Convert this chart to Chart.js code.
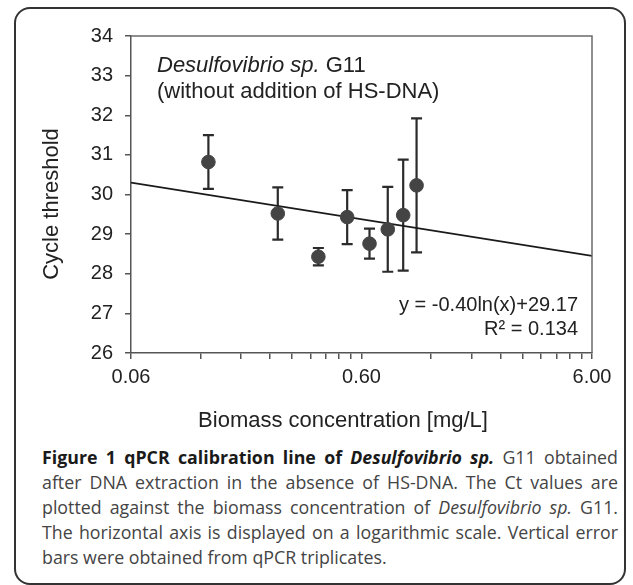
<!DOCTYPE html>
<html>
<head>
  <meta charset="utf-8">
  <title>qPCR calibration line</title>
  <style type="text/css">
    body { margin: 0; width: 633px; height: 585px; overflow: hidden; background: #fff; position: relative; }
    #frame {
      position: absolute; left: 14px; top: 7px; width: 612px; height: 578px;
      border: 2px solid #333; border-radius: 16px; box-sizing: border-box;
    }
    #wrap { position: absolute; left: 0; top: 0; width: 633px; height: 440px; }
    #caption {
      position: absolute; left: 42px; top: 445px; width: 576px;
      font-family: "Open Sans", sans-serif; font-size: 17.8px; line-height: 25px; color: #444;
    }
    #caption div { white-space: nowrap; text-align: justify; text-align-last: justify; }
    #caption div.last { text-align-last: left; }
    #caption b { color: #1a1a1a; }
  </style>
</head>
<body>
  <div id="frame"></div>
  <div id="wrap"><canvas id="chart"></canvas></div>
  <div id="caption">
    <div><b>Figure 1 qPCR calibration line of <i>Desulfovibrio sp.</i></b> G11 obtained</div>
    <div>after DNA extraction in the absence of HS-DNA. The Ct values are</div>
    <div>plotted against the biomass concentration of <i>Desulfovibrio sp.</i> G11.</div>
    <div>The horizontal axis is displayed on a logarithmic scale. Vertical error</div>
    <div class="last">bars were obtained from qPCR triplicates.</div>
  </div>
  <script src="https://cdn.jsdelivr.net/npm/chart.js@4/dist/chart.umd.min.js"></script>
  <script>
    // biomass concentration [mg/L] and mean Ct with error (+/-) from triplicates
    const biomass = [0.13, 0.26, 0.39, 0.52, 0.65, 0.78, 0.91, 1.04];
    const ctMean = [30.82, 29.52, 28.43, 29.43, 28.76, 29.12, 29.48, 30.23];
    const ctErr = [0.68, 0.66, 0.22, 0.68, 0.38, 1.07, 1.40, 1.69];

    // fitted line y = -0.40ln(x)+29.17, end points at the axis limits
    const trendX = [0.06, 6];
    const trendY = [30.30, 28.45];

    const xMajor = [0.06, 0.6, 6];
    const xTicks = [];
    for (const m of xMajor.slice(0, 2)) {
      for (let k = 1; k < 10; k++) xTicks.push(+(m * k).toFixed(4));
    }
    xTicks.push(6);
    const yTicks = [26, 27, 28, 29, 30, 31, 32, 33, 34];

    const ink = '#555';
    const textFont = '"Liberation Sans", Arial, sans-serif';

    const extras = {
      id: 'extras',
      beforeDatasetsDraw(chart) {
        const { ctx, scales: { x, y } } = chart;
        ctx.save();
        ctx.strokeStyle = '#2b2b2b';
        ctx.lineWidth = 2.2;
        biomass.forEach((b, i) => {
          const px = x.getPixelForValue(b);
          const top = y.getPixelForValue(ctMean[i] + ctErr[i]);
          const bot = y.getPixelForValue(ctMean[i] - ctErr[i]);
          ctx.beginPath();
          ctx.moveTo(px, top); ctx.lineTo(px, bot);
          ctx.moveTo(px - 5.5, top); ctx.lineTo(px + 5.5, top);
          ctx.moveTo(px - 5.5, bot); ctx.lineTo(px + 5.5, bot);
          ctx.stroke();
        });
        ctx.restore();
      },
      afterDraw(chart) {
        const { ctx, chartArea: a } = chart;
        ctx.save();
        // top and right frame of the plot box
        ctx.strokeStyle = '#6a6a6a';
        ctx.lineWidth = 1.5;
        ctx.beginPath();
        ctx.moveTo(a.left, a.top); ctx.lineTo(a.right, a.top); ctx.lineTo(a.right, a.bottom);
        ctx.stroke();

        ctx.fillStyle = '#222';
        ctx.textBaseline = 'middle';
        // label inside the plot
        ctx.textAlign = 'left';
        ctx.font = 'italic 22px ' + textFont;
        const t1 = 'Desulfovibrio sp.';
        ctx.fillText(t1, 157, 66);
        const w1 = ctx.measureText(t1 + ' ').width;
        ctx.font = '22px ' + textFont;
        ctx.fillText('G11', 157 + w1, 66);
        ctx.fillText('(without addition of HS-DNA)', 157, 92);

        // equation
        ctx.textAlign = 'right';
        ctx.font = '20px ' + textFont;
        ctx.fillText('y = -0.40ln(x)+29.17', 578, 305);
        ctx.fillText('R\u00b2 = 0.134', 578, 329);

        // axis titles
        ctx.textAlign = 'center';
        ctx.font = '22px ' + textFont;
        ctx.fillText('Biomass concentration [mg/L]', 343, 421);
        ctx.translate(52, 204);
        ctx.rotate(-Math.PI / 2);
        ctx.fillText('Cycle threshold', 0, 0);
        ctx.restore();
      }
    };

    new Chart(document.getElementById('chart'), {
      data: {
        datasets: [
          {
            type: 'line',
            data: trendX.map((v, i) => ({ x: v, y: trendY[i] })),
            borderColor: '#1a1a1a',
            borderWidth: 1.6,
            pointRadius: 0,
            order: 2
          },
          {
            type: 'scatter',
            data: biomass.map((v, i) => ({ x: v, y: ctMean[i] })),
            backgroundColor: '#444',
            borderColor: '#444',
            pointRadius: 6.8,
            order: 1
          }
        ]
      },
      options: {
        responsive: true,
        maintainAspectRatio: false,
        animation: false,
        layout: { padding: { left: 0, top: 36, right: 41, bottom: 0 } },
        plugins: { legend: { display: false }, tooltip: { enabled: false } },
        scales: {
          x: {
            type: 'logarithmic',
            min: 0.06,
            max: 6,
            afterFit(scale) { scale.height = 87; },
            afterBuildTicks(scale) { scale.ticks = xTicks.map(v => ({ value: v })); },
            border: { display: true, color: ink, width: 1.5 },
            grid: { drawOnChartArea: false, drawTicks: true, tickLength: 6, color: ink, lineWidth: 1.5 },
            ticks: {
              autoSkip: false,
              maxRotation: 0,
              padding: 6,
              color: '#222',
              font: { family: textFont, size: 20 },
              callback(v) {
                const m = xMajor.find(t => Math.abs(t - v) < 1e-6);
                return m === undefined ? '' : m.toFixed(2);
              }
            }
          },
          y: {
            min: 26,
            max: 34,
            afterFit(scale) { scale.width = 131; },
            afterBuildTicks(scale) { scale.ticks = yTicks.map(v => ({ value: v })); },
            border: { display: true, color: ink, width: 1.5 },
            grid: { drawOnChartArea: false, drawTicks: true, tickLength: 6, color: ink, lineWidth: 1.5 },
            ticks: {
              padding: 12,
              color: '#222',
              font: { family: textFont, size: 20 }
            }
          }
        }
      },
      plugins: [extras]
    });
  </script>
</body>
</html>
